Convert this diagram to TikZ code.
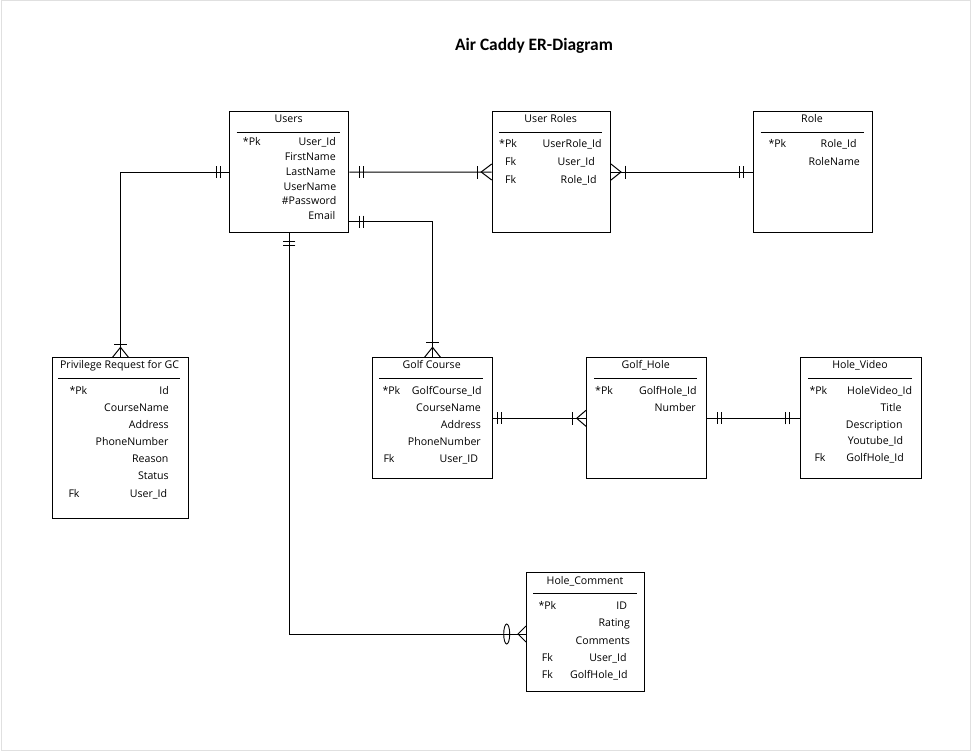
\documentclass[tikz,border=0pt]{standalone}
\usepackage{fontspec}
\setmainfont{Open Sans}
\newfontfamily\titlefont{Carlito}
\usetikzlibrary{calc}
\tikzset{
  ebox/.style={draw, line width=1pt, inner sep=0pt, anchor=north west},
  txt/.style={inner sep=0pt, font=\fontsize{10.6}{12}\selectfont},
  ttl/.style={txt, anchor=base},
  key/.style={txt, anchor=base west},
  val/.style={txt, anchor=base east},
  sep/.style={line width=1pt},
  conn/.style={line width=1pt},
  pics/mand/.style={code={
    \draw[line width=1pt] (#1,-6) -- (#1,6);
    \draw[line width=1pt] (#1+4,-6) -- (#1+4,6);}},
  pics/crow/.style 2 args={code={
    \draw[line width=1pt] (0,-8) -- (#1,0) -- (0,8);
    \draw[line width=1pt] (#2,-6.5) -- (#2,6.5);}},
  pics/zcrow/.style 2 args={code={
    \draw[line width=1pt] (0,-8) -- (#1,0) -- (0,8);
    \draw[line width=0.9pt] (#2,0) ellipse [x radius=3, y radius=10];}}
}
\begin{document}
\begin{tikzpicture}[x=1pt,y=-1pt]
\useasboundingbox (0,0) rectangle (973,752);
\draw[line width=1.5pt, black!12] (1.5,0.75) rectangle (970.5,750.5);

\node[inner sep=0pt, anchor=base, font=\titlefont\bfseries\fontsize{17.4}{20}\selectfont] (title) at (534,51) {Air Caddy ER-Diagram};

% ---------- Users
\node[ebox, minimum width=119pt, minimum height=121.3pt] (users) at (229.3,111) {};
\node[ttl] (users-t) at (288.7,122.7) {Users};
\draw[sep] (236.7,132.3) -- (340,132.3);
\node[key] (users-k1) at (242.7,145.7) {*Pk};
\node[val] (users-v1) at (336,145.7) {User\_Id};
\node[val] (users-v2) at (336,160.5) {FirstName};
\node[val] (users-v3) at (336,175.2) {LastName};
\node[val] (users-v4) at (336.5,190) {UserName};
\node[val] (users-v5) at (336.5,204.8) {\#Password};
\node[val] (users-v6) at (335.5,219.6) {Email};

% ---------- User Roles
\node[ebox, minimum width=118.3pt, minimum height=121pt] (ur) at (491.7,111) {};
\node[ttl] (ur-t) at (550.7,122.7) {User Roles};
\draw[sep] (499,132.3) -- (601.7,132.3);
\node[key] (ur-k1) at (499,147.3) {*Pk};
\node[val] (ur-v1) at (601.7,147.3) {UserRole\_Id};
\node[key] (ur-k2) at (505,165) {Fk};
\node[val] (ur-v2) at (595,165) {User\_Id};
\node[key] (ur-k3) at (505,183) {Fk};
\node[val] (ur-v3) at (596.7,183) {Role\_Id};

% ---------- Role
\node[ebox, minimum width=119pt, minimum height=121pt] (role) at (753.3,111) {};
\node[ttl] (role-t) at (812,122.7) {Role};
\draw[sep] (760.7,132.3) -- (864,132.3);
\node[key] (role-k1) at (768.3,147.3) {*Pk};
\node[val] (role-v1) at (856.7,147.3) {Role\_Id};
\node[val] (role-v2) at (860,165.7) {RoleName};

% ---------- Privilege Request for GC
\node[ebox, minimum width=136.6pt, minimum height=161pt] (priv) at (51.7,357.3) {};
\node[ttl] (priv-t) at (119.6,368.3) {Privilege Request for GC};
\draw[sep] (58.3,378.3) -- (180,378.3);
\node[key] (priv-k1) at (69.3,394.3) {*Pk};
\node[val] (priv-v1) at (169,394.3) {Id};
\node[val] (priv-v2) at (169,411.3) {CourseName};
\node[val] (priv-v3) at (169,428.3) {Address};
\node[val] (priv-v4) at (168.7,445.3) {PhoneNumber};
\node[val] (priv-v5) at (168.7,462.3) {Reason};
\node[val] (priv-v6) at (169,479.6) {Status};
\node[key] (priv-k7) at (68.3,497.3) {Fk};
\node[val] (priv-v7) at (167.3,497.3) {User\_Id};

% ---------- Golf Course
\node[ebox, minimum width=119.4pt, minimum height=121pt] (gc) at (372.3,357.3) {};
\node[ttl] (gc-t) at (431.7,368.3) {Golf Course};
\draw[sep] (379.3,378.3) -- (483.3,378.3);
\node[key] (gc-k1) at (382.3,394.3) {*Pk};
\node[val] (gc-v1) at (481.7,394.3) {GolfCourse\_Id};
\node[val] (gc-v2) at (481,411.3) {CourseName};
\node[val] (gc-v3) at (481,428.3) {Address};
\node[val] (gc-v4) at (481,445.3) {PhoneNumber};
\node[key] (gc-k5) at (383.3,462.3) {Fk};
\node[val] (gc-v5) at (478.3,462.3) {User\_ID};

% ---------- Golf_Hole
\node[ebox, minimum width=119.7pt, minimum height=121pt] (gh) at (586,357.3) {};
\node[ttl] (gh-t) at (645.7,368.3) {Golf\_Hole};
\draw[sep] (594,378.3) -- (697.3,378.3);
\node[key] (gh-k1) at (595,394.7) {*Pk};
\node[val] (gh-v1) at (696.7,394.7) {GolfHole\_Id};
\node[val] (gh-v2) at (696,411.3) {Number};

% ---------- Hole_Video
\node[ebox, minimum width=120.7pt, minimum height=121pt] (hv) at (800,357.3) {};
\node[ttl] (hv-t) at (860,368.3) {Hole\_Video};
\draw[sep] (808.3,378.3) -- (911.7,378.3);
\node[key] (hv-k1) at (809.3,394.7) {*Pk};
\node[val] (hv-v1) at (912.3,394.7) {HoleVideo\_Id};
\node[val] (hv-v2) at (901.7,411.3) {Title};
\node[val] (hv-v3) at (902.7,428) {Description};
\node[val] (hv-v4) at (903.3,444.7) {Youtube\_Id};
\node[key] (hv-k5) at (814.3,461.3) {Fk};
\node[val] (hv-v5) at (904,461.3) {GolfHole\_Id};

% ---------- Hole_Comment
\node[ebox, minimum width=118.3pt, minimum height=118.7pt] (hc) at (526,572.3) {};
\node[ttl] (hc-t) at (585,584.7) {Hole\_Comment};
\draw[sep] (533.3,593.3) -- (636.7,593.3);
\node[key] (hc-k1) at (538.3,609) {*Pk};
\node[val] (hc-v1) at (627.3,609) {ID};
\node[val] (hc-v2) at (630,626.3) {Rating};
\node[val] (hc-v3) at (630,644) {Comments};
\node[key] (hc-k4) at (541.7,661.3) {Fk};
\node[val] (hc-v4) at (626.7,661.3) {User\_Id};
\node[key] (hc-k5) at (541.7,678.7) {Fk};
\node[val] (hc-v5) at (627.7,678.7) {GolfHole\_Id};

% ---------- connectors
\coordinate (uE2) at ($(users.north east)+(0,110.7)$);
\coordinate (hcW) at ($(hc.north west)+(0,61.7)$);

\draw[conn] (users.west) -| (priv.north);
\draw[conn] (users.east) -- (ur.west);
\draw[conn] (ur.east) -- (role.west);
\draw[conn] (uE2) -| (gc.north);
\draw[conn] (users.south) |- (hcW);
\draw[conn] (gc.east) -- (gh.west);
\draw[conn] (gh.east) -- (hv.west);

% ---------- cardinality marks
\path (users.west) pic[rotate=180] {mand=8.6};
\path (users.east) pic {mand=10};
\path (uE2) pic {mand=10};
\path (users.south) pic[rotate=-90] {mand=7.7};
\path (role.west) pic[rotate=180] {mand=10};
\path (gc.east) pic {mand=5};
\path (gh.east) pic {mand=10.3};
\path (hv.west) pic[rotate=180] {mand=10.7};

\path (priv.north) pic[rotate=90] {crow={10}{13}};
\path (gc.north) pic[rotate=90] {crow={10}{15}};
\path (ur.west) pic[rotate=180] {crow={10.5}{14}};
\path (ur.east) pic {crow={10}{14}};
\path (gh.west) pic[rotate=180] {crow={9.3}{13.3}};
\path (hcW) pic[rotate=180] {zcrow={8}{19.3}};
\end{tikzpicture}
\end{document}
